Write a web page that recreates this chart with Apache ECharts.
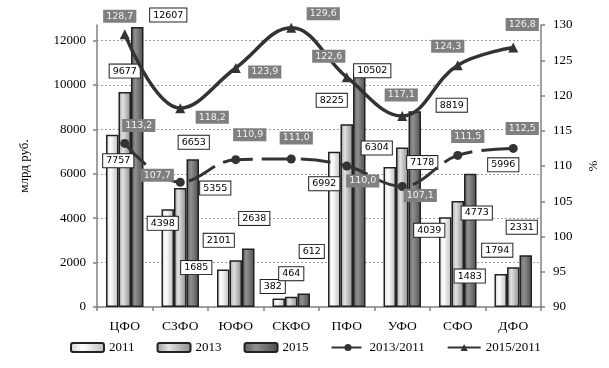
<!DOCTYPE html>
<html><head><meta charset="utf-8">
<script src="https://cdn.jsdelivr.net/npm/echarts@6/dist/echarts.min.js"></script>
<style>html,body{margin:0;padding:0;background:#fff}#c{width:609px;height:368px}</style>
</head><body><div id="c"></div>
<script>
var categories = ['ЦФО','СЗФО','ЮФО','СКФО','ПФО','УФО','СФО','ДФО'];
var v2011 = [7757, 4398, 1685, 382, 6992, 6304, 4039, 1483];
var v2013 = [9677, 5355, 2101, 464, 8225, 7178, 4773, 1794];
var v2015 = [12607, 6653, 2638, 612, 10502, 8819, 5996, 2331];
var r2013 = [113.2, 107.7, 110.9, 111.0, 110.0, 107.1, 111.5, 112.5];
var r2015 = [128.7, 118.2, 123.9, 129.6, 122.6, 117.1, 124.3, 126.8];
var leftTicks = [2000, 4000, 6000, 8000, 10000, 12000];

// label placement offsets (style only)
var off2011 = [[6,26],[-5,14],[-27,-2],[-6,-12],[-10,32],[-13,-19],[-16,13],[-31,2]];
var off2013 = [[0,-21],[35,0],[-17,-20],[0,-23],[-15,-24],[20,15],[19,12],[-16,-17]];
var off2015 = [[31,-12],[1,-17],[6,-30],[8,-42],[13,-3],[37,-6],[33,-9],[-4,-28]];
var offR13 = [[14,-18],[-23,-7],[14,-25],[5,-21],[16,15],[18,9],[10,-19],[9,-20]];
var offR15 = [[-5,-18],[32,9],[29,4],[32,-14],[-18,-21],[-1,-21],[-10,-19],[9,-23]];

var serif = 'Liberation Serif';
var sans = 'DejaVu Sans';

function grad(a, b, c) {
  return new echarts.graphic.LinearGradient(0, 0, 1, 0, [
    {offset: 0, color: a}, {offset: 0.35, color: b}, {offset: 1, color: c}]);
}
function withOffsets(vals, offs) {
  return vals.map(function (v, i) { return {value: v, label: {offset: offs[i]}}; });
}
var barLabel = {
  show: true, position: 'top', distance: 0, verticalAlign: 'middle', align: 'center',
  backgroundColor: '#fff', borderColor: '#222', borderWidth: 1, padding: [2, 3, 1, 3],
  color: '#000', fontFamily: sans, fontSize: 9.5
};
var lineLabel = {
  show: true, position: 'inside', align: 'center', verticalAlign: 'middle',
  backgroundColor: '#7f7f7f', padding: [2, 3, 1, 3], color: '#f2f2f2',
  fontFamily: sans, fontSize: 9.5,
  formatter: function (p) { return p.value.toFixed(1).replace('.', ','); }
};
function mkBar(name, vals, offs, g) {
  return {
    name: name, type: 'bar', data: withOffsets(vals, offs), barWidth: 12.5, barGap: '0%',
    itemStyle: {color: g, borderColor: '#222', borderWidth: 1.5},
    label: barLabel, z: 2
  };
}
var s2011 = mkBar('2011', v2011, off2011, grad('#d0d0d0', '#ffffff', '#bcbcbc'));
s2011.markLine = {
  silent: true, symbol: 'none', z: 1, label: {show: false},
  lineStyle: {color: '#a0a0a0', type: [2, 2], width: 1},
  data: leftTicks.map(function (t) { return {yAxis: t}; })
};
var option = {
  animation: false,
  backgroundColor: '#fff',
  grid: {left: 97, right: 68, top: 25, bottom: 61},
  legend: {
    left: 70, top: 341, padding: 0, itemGap: 22, itemWidth: 33, itemHeight: 9,
    textStyle: {fontFamily: serif, fontSize: 13, color: '#000'},
    data: ['2011', '2013', '2015', '2013/2011', '2015/2011']
  },
  xAxis: {
    type: 'category', data: categories,
    axisLine: {lineStyle: {color: '#808080', width: 1.5}},
    axisTick: {show: true, length: 4, lineStyle: {color: '#808080', width: 1.5}},
    axisLabel: {fontFamily: serif, fontSize: 13.5, color: '#000', margin: 12}
  },
  yAxis: [{
    type: 'value', min: 0, max: 12700, interval: 2000,
    name: 'млрд руб.', nameLocation: 'middle', nameGap: 66, nameRotate: 90,
    nameTextStyle: {fontFamily: serif, fontSize: 13, color: '#000'},
    axisLine: {show: true, lineStyle: {color: '#808080', width: 1.5}},
    axisTick: {show: true, length: 4, lineStyle: {color: '#808080', width: 1.5}},
    axisLabel: {fontFamily: serif, fontSize: 13, color: '#000', margin: 11, showMaxLabel: false,
      formatter: function (v) { return v > 12000 ? '' : String(v); }},
    splitLine: {show: false}
  }, {
    type: 'value', min: 90, max: 130, interval: 5, position: 'right',
    name: '%', nameLocation: 'middle', nameGap: 46, nameRotate: 90,
    nameTextStyle: {fontFamily: serif, fontSize: 13, color: '#000'},
    axisLine: {show: true, lineStyle: {color: '#808080', width: 1.5}},
    axisTick: {show: true, length: 4, lineStyle: {color: '#808080', width: 1.5}},
    axisLabel: {fontFamily: serif, fontSize: 13, color: '#000', margin: 12},
    splitLine: {show: false}
  }],
  series: [
    s2011,
    mkBar('2013', v2013, off2013, grad('#9c9c9c', '#e2e2e2', '#8a8a8a')),
    mkBar('2015', v2015, off2015, grad('#5c5c5c', '#909090', '#4c4c4c')),
    {
      name: '2013/2011', type: 'line', yAxisIndex: 1, data: withOffsets(r2013, offR13),
      smooth: 0.4, symbol: 'circle', symbolSize: 9, z: 5,
      lineStyle: {color: '#333', width: 3, type: [30, 9]},
      itemStyle: {color: '#333'}, label: lineLabel
    },
    {
      name: '2015/2011', type: 'line', yAxisIndex: 1, data: withOffsets(r2015, offR15),
      smooth: 0.4, symbol: 'triangle', symbolSize: 10, z: 5,
      lineStyle: {color: '#333', width: 3.5},
      itemStyle: {color: '#333'}, label: lineLabel
    }
  ]
};
var chart = echarts.init(document.getElementById('c'), null, {renderer: 'canvas'});
chart.setOption(option);
</script>
</body></html>
